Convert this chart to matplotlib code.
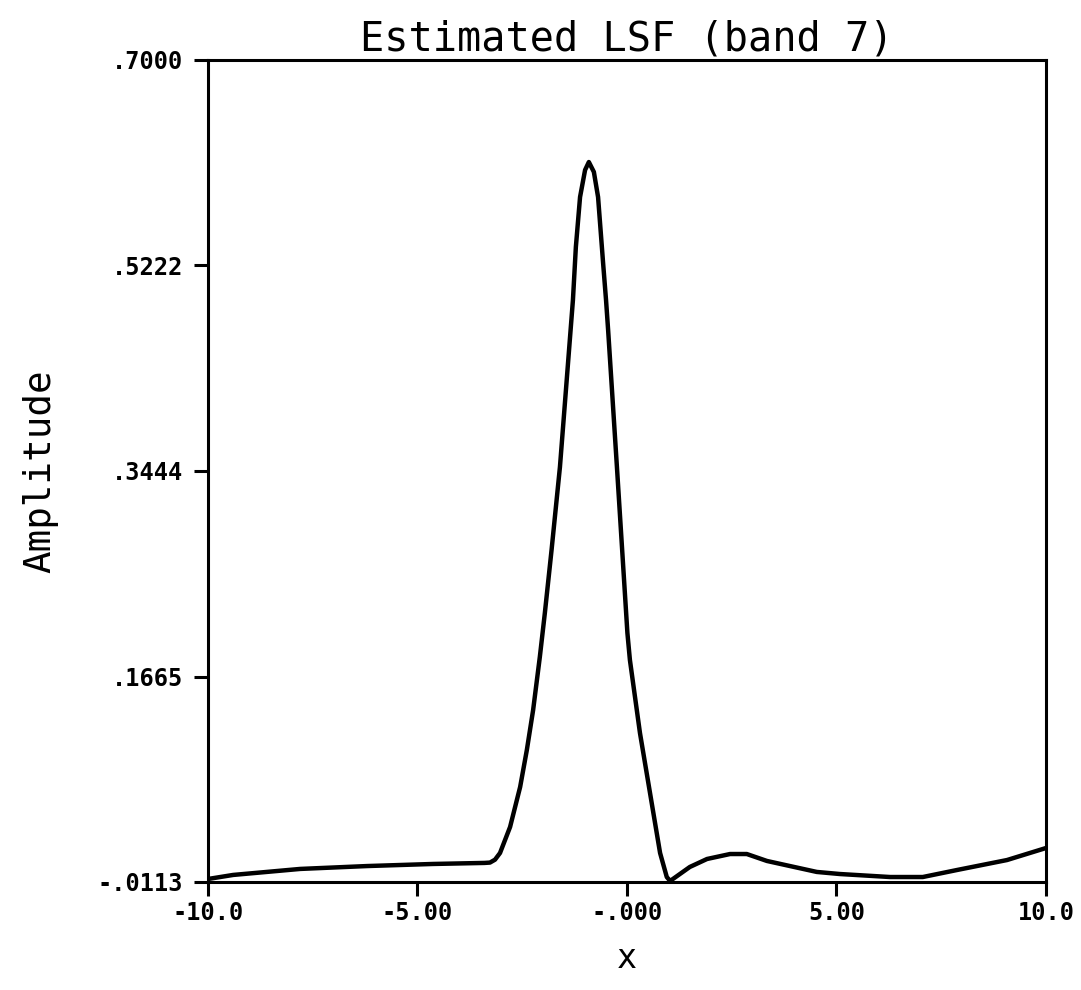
import numpy as np
import matplotlib.pyplot as plt

# values
x_vals = [-10.0, -9.40, -7.80, -6.20, -4.63, -3.40, -3.27, -3.15, -3.03, -2.79, -2.55,
          -2.39, -2.24, -2.08, -1.96, -1.80, -1.60, -1.29, -1.22, -1.12, -1.00,
          -0.91, -0.79, -0.69, -0.57, -0.50, -0.45, -0.24, 0.01, 0.07, 0.31,
          0.55, 0.79, 0.95, 1.03, 1.50, 1.91, 2.46, 2.86, 3.34, 3.89,
          4.53, 5.08, 6.28, 7.06, 7.88, 9.07, 10.0]
amplitude = [-0.0087, -0.0052, 0.0000, 0.0025, 0.0043, 0.0052, 0.0055, 0.0080, 0.0138, 0.0363, 0.0709,
             0.1029, 0.1375, 0.1834, 0.2215, 0.2760, 0.3478, 0.4923, 0.5382, 0.5814, 0.6048,
             0.6117, 0.6031, 0.5814, 0.5243, 0.4923, 0.4663, 0.3478, 0.2042, 0.1808, 0.1176,
             0.0657, 0.0138, -0.0070, -0.0104, 0.0017, 0.0086, 0.0129, 0.0129, 0.0069, 0.0025,
             -0.0026, -0.0044, -0.0070, -0.0070, -0.0009, 0.0077, 0.0181]

xticks = [-10.0, -5.0, 0.0, 5.0, 10.0]
xtick_labels = ['-10.0', '-5.00', '-.000', '5.00', '10.0']
yticks = [-0.0113, 0.1665, 0.3444, 0.5222, 0.7000]
ytick_labels = ['-.0113', '.1665', '.3444', '.5222', '.7000']

mono = 'DejaVu Sans Mono'

fig = plt.figure(figsize=(10.81, 9.9), dpi=100)
ax = fig.add_axes([0.1924, 0.1091, 0.7752, 0.8303])

ax.plot(x_vals, amplitude, color='black', linewidth=3.2,
        solid_joinstyle='round', solid_capstyle='round')

ax.set_xlim(-10, 10)
ax.set_ylim(-0.0113, 0.7)

ax.set_xticks(xticks)
ax.set_xticklabels(xtick_labels, family=mono, fontsize=17, fontweight='bold')
ax.set_yticks(yticks)
ax.set_yticklabels(ytick_labels, family=mono, fontsize=17, fontweight='bold')
ax.tick_params(axis='both', direction='out', length=10, width=2.2, color='black')
ax.tick_params(axis='x', pad=4)
ax.tick_params(axis='y', pad=8)

for s in ax.spines.values():
    s.set_linewidth(2.2)

ax.set_title('Estimated LSF (band 7)', family=mono, fontsize=29, pad=6)
ax.set_xlabel('x', family=mono, fontsize=24, labelpad=12)
ax.set_ylabel('Amplitude', family=mono, fontsize=27, labelpad=28)

fig.savefig('out.png', dpi=100)
